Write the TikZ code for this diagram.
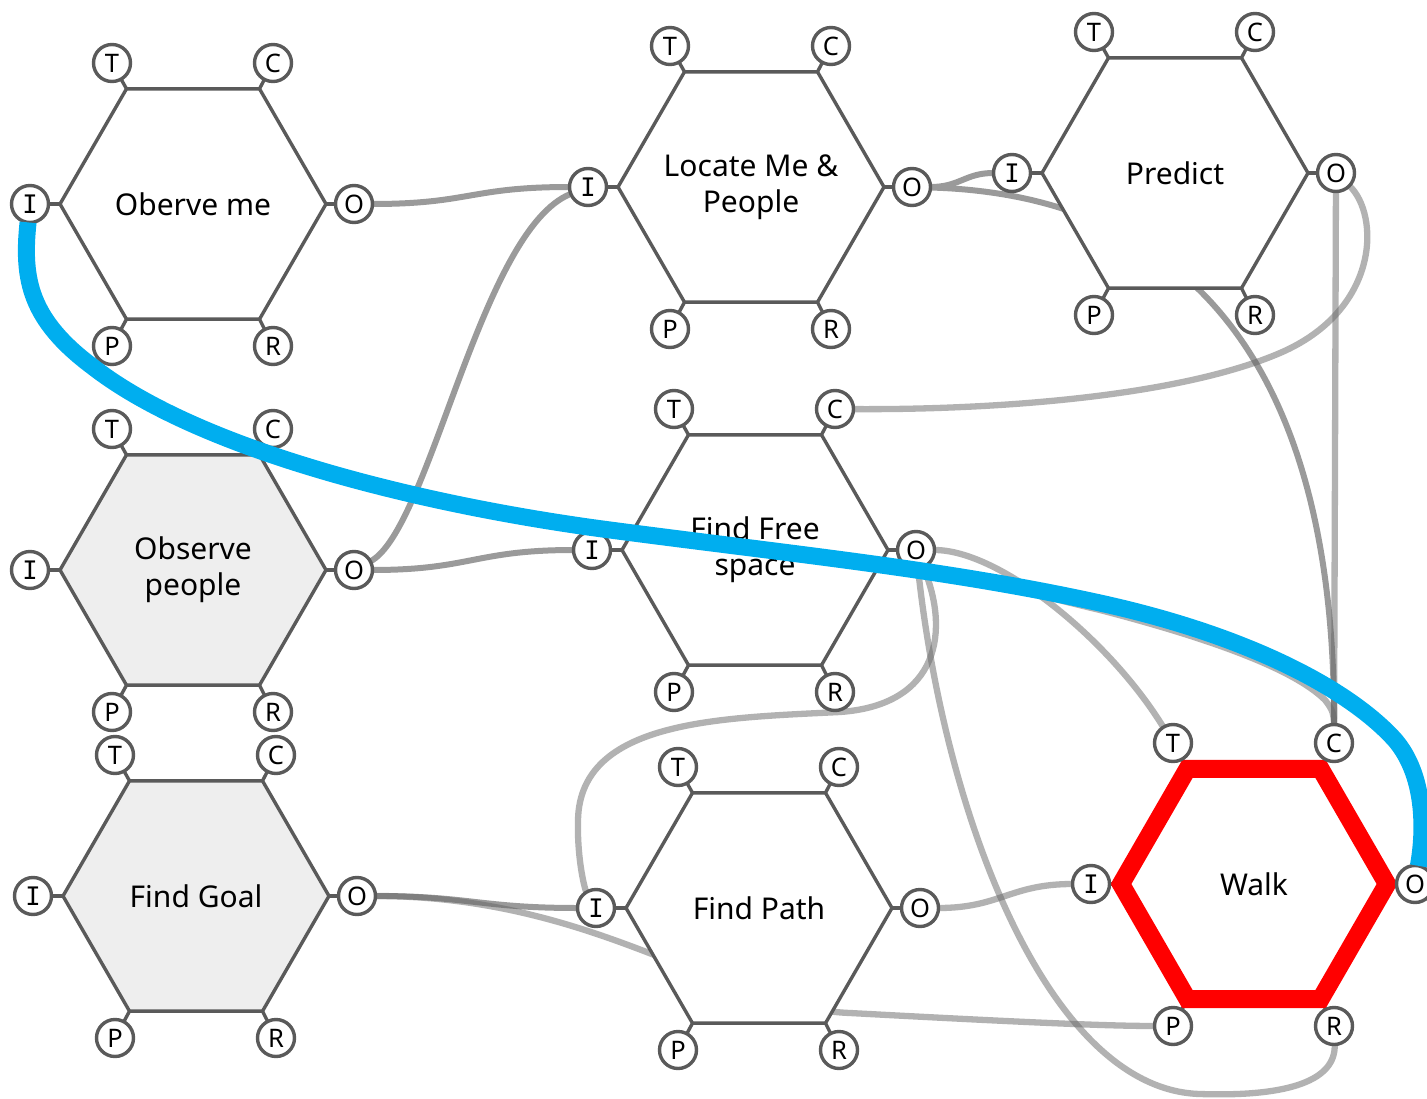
\documentclass[tikz,border=0pt]{standalone}
\usepackage{fontspec}
\setmainfont{Noto Sans}
\newfontfamily\portmono{DejaVu Sans Mono}
\usetikzlibrary{shapes.geometric,calc}

\definecolor{hexline}{HTML}{5A5A5A}
\definecolor{wiredark}{HTML}{9A9A9A}
\definecolor{wirelight}{HTML}{666666}
\definecolor{modfill}{HTML}{EEEEEE}
\definecolor{linkblue}{HTML}{00AEEF}

\pgfdeclarelayer{wires}
\pgfdeclarelayer{stubs}
\pgfdeclarelayer{top}
\pgfsetlayers{wires,stubs,main,top}

\tikzset{
  x=1pt, y=-1pt,
  hexbox/.style={regular polygon, regular polygon sides=6, minimum size=266pt,
    inner sep=0pt, outer sep=0pt, draw=hexline, line width=3.4pt, fill=white},
  hexlabel/.style={inner sep=0pt, align=center, text=black,
    font=\fontsize{30}{36}\selectfont},
  port/.style={circle, minimum size=37pt, inner sep=0pt, outer sep=0pt,
    draw=hexline, line width=3.4pt, fill=white, text=black,
    font=\fontsize{25.5}{26}\selectfont},
  stub/.style={draw=hexline, line width=3.4pt},
  wire/.style={line width=6pt, draw=wiredark},
  softwire/.style={line width=6.3pt, draw=wirelight, draw opacity=.5},
  bluelink/.style={line width=17pt, draw=linkblue},
  walkbox/.style={draw=red, line width=18pt, line join=miter},
  grey/.style={fill=modfill}
}

% one module: hexagon, its caption and its six ports T, C, I, O, P, R
\newcommand\hexunit[4]{%
  \node[hexbox,#4] (#1) at #2 {};
  \node[hexlabel] (#1L) at (#1) {#3};
  \node[port] (#1T) at ($(#1)+(-81,-141)$) {T};
  \node[port] (#1C) at ($(#1)+(80,-141)$) {C};
  \node[port] (#1I) at ($(#1)+(-163,0)$) {\portmono I};
  \node[port] (#1O) at ($(#1)+(161,0)$) {O};
  \node[port] (#1P) at ($(#1)+(-81,142)$) {P};
  \node[port] (#1R) at ($(#1)+(80,142)$) {R};
  \begin{pgfonlayer}{stubs}
    \draw[stub] (#1.120) -- (#1T);
    \draw[stub] (#1.60) -- (#1C);
    \draw[stub] (#1.180) -- (#1I);
    \draw[stub] (#1.0) -- (#1O);
    \draw[stub] (#1.240) -- (#1P);
    \draw[stub] (#1.300) -- (#1R);
  \end{pgfonlayer}
}

\begin{document}
\begin{tikzpicture}
\useasboundingbox (0,0) rectangle (1427,1099);

\hexunit{obme}{(193,204)}{Oberve me}{}
\hexunit{loc}{(751,187)}{Locate Me \&\\People}{}
\hexunit{pred}{(1175,173)}{Predict}{}
\hexunit{obpe}{(193,570)}{Observe\\people}{grey}
\hexunit{ffs}{(755,550)}{Find Free\\space}{}
\hexunit{goal}{(196,896)}{Find Goal}{grey}
\hexunit{fpath}{(759,908)}{Find Path}{}
\hexunit{walk}{(1254,884)}{Walk}{walkbox}

\begin{pgfonlayer}{wires}
  % darker links
  \draw[wire] (obmeO) .. controls (470,204) and (470,187) .. (locI);
  \draw[wire] (obpeO) .. controls (430,530) and (480,230) .. (locI);
  \draw[wire] (obpeO) .. controls (470,570) and (475,550) .. (ffsI);
  \draw[wire] (locO) .. controls (960,187) and (965,173) .. (predI);
  \draw[wire] (locO) .. controls (1200,195) and (1335,380) .. (walkC);
  \draw[wire] (goalO) .. controls (470,896) and (480,908) .. (fpathI);
  % lighter links
  \draw[softwire] (predO) -- (walkC);
  \draw[softwire] (predO) .. controls (1380,215) and (1380,310) .. (1280,353)
                  .. controls (1180,396) and (1000,410) .. (ffsC);
  \draw[softwire] (ffsO) .. controls (1000,550) and (1110,640) .. (walkT);
  \draw[softwire] (ffsO) .. controls (930,568) and (960,576) .. (1000,586)
                  .. controls (1040,595) and (1070,603) .. (1100,610)
                  .. controls (1235,645) and (1300,675) .. (1325,700)
                  .. controls (1333,710) and (1334,715) .. (walkC);
  \draw[softwire] (ffsO) .. controls (950,630) and (940,705) .. (840,712)
                  .. controls (720,718) and (580,720) .. (578,820)
                  .. controls (577,860) and (585,890) .. (fpathI);
  \draw[softwire] (ffsO) .. controls (945,820) and (1050,1090) .. (1200,1094)
                  .. controls (1290,1097) and (1336,1080) .. (walkR);
  \draw[softwire] (fpathO) .. controls (1000,908) and (1010,884) .. (walkI);
  \draw[softwire] (goalO) .. controls (600,896) and (720,1008) .. (850,1013)
                  .. controls (1000,1021) and (1100,1026) .. (walkP);
\end{pgfonlayer}

\begin{pgfonlayer}{top}
  \draw[bluelink] (obmeI) .. controls (22,280) and (30,320) .. (93,367)
                  .. controls (200,450) and (420,505) .. (610,530)
                  .. controls (800,555) and (950,570) .. (1100,603)
                  .. controls (1250,636) and (1350,690) .. (1395,740)
                  .. controls (1425,775) and (1425,830) .. (walkO);
\end{pgfonlayer}
\end{tikzpicture}
\end{document}
